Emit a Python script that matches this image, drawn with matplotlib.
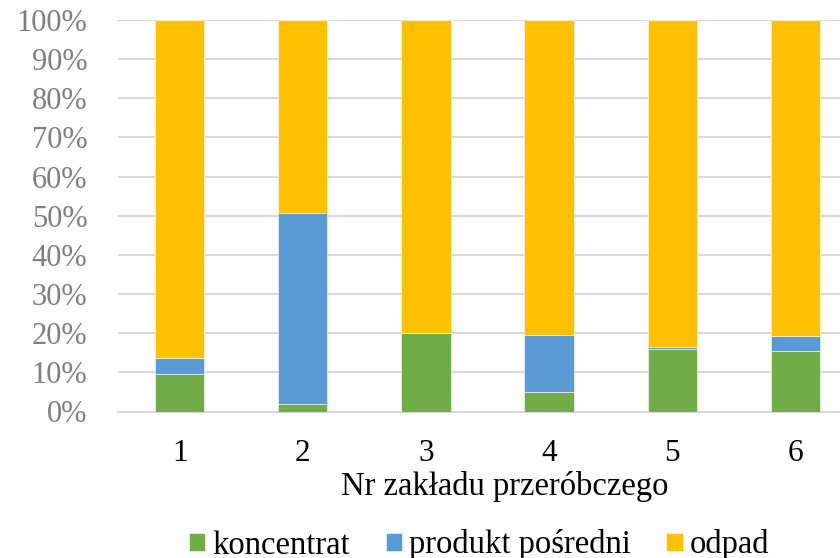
import matplotlib.pyplot as plt
import numpy as np

plt.rcParams['font.family'] = ['Liberation Serif', 'DejaVu Serif']

zaklady = ['1', '2', '3', '4', '5', '6']
koncentrat = [9.5, 2.0, 20.0, 4.9, 15.9, 15.5]
produkt_posredni = [4.2, 48.7, 0.0, 14.6, 0.5, 3.9]
odpad = [100 - k - p for k, p in zip(koncentrat, produkt_posredni)]

fig = plt.figure(figsize=(8.4, 5.58), dpi=100)
ax = fig.add_axes([118 / 840, 146.5 / 558, 739 / 840, 391.5 / 558])

x = np.arange(len(zaklady))
w = 0.4
ax.bar(x, koncentrat, w, color='#70AD47', label='koncentrat', zorder=3,
       edgecolor='white', linewidth=0.4)
ax.bar(x, produkt_posredni, w, bottom=koncentrat, color='#5B9BD5',
       label='produkt pośredni', zorder=3, edgecolor='white', linewidth=0.4)
bottom2 = [k + p for k, p in zip(koncentrat, produkt_posredni)]
ax.bar(x, odpad, w, bottom=bottom2, color='#FFC000', label='odpad', zorder=3,
       edgecolor='white', linewidth=0.4)

ax.set_xlim(-0.5, 5.5)
ax.set_ylim(0, 100)
ax.set_yticks(np.arange(0, 101, 10))
ax.set_yticklabels([f'{v}%' for v in range(0, 101, 10)])
ax.set_xticks(x)
ax.set_xticklabels(zaklady)
ax.grid(axis='y', color='#D9D9D9', linewidth=1.5, zorder=0)
for s in ['top', 'right', 'left']:
    ax.spines[s].set_visible(False)
ax.spines['bottom'].set_color('#D9D9D9')
ax.spines['bottom'].set_linewidth(1.5)
ax.tick_params(axis='y', length=0, pad=22, labelsize=22, labelcolor='#7F7F7F')
ax.tick_params(axis='x', length=0, pad=20, labelsize=22.5, labelcolor='black')
ax.set_xlabel('Nr zakładu przeróbczego', fontsize=23.5)
ax.xaxis.set_label_coords((505 - 118) / 739, -(487 - 411.5) / 391.5)
ax.xaxis.label.set_verticalalignment('center')

fig.legend(loc='center', bbox_to_anchor=(479 / 840, 1 - 545 / 558), ncol=3,
           frameon=False, fontsize=23.5, handlelength=0.5, handleheight=0.5,
           handletextpad=0.21, columnspacing=1.1, borderpad=0)

fig.savefig('out.png', dpi=100)
